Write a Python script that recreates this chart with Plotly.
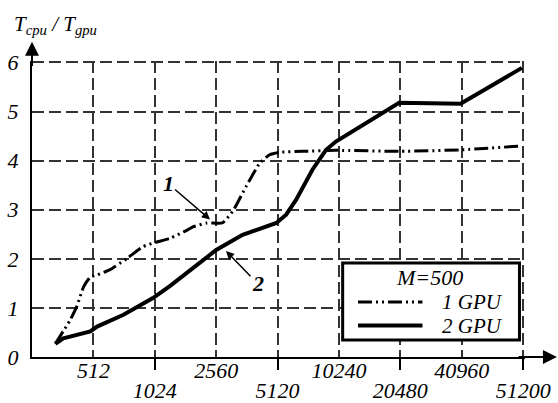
import plotly.graph_objects as go

# Tick labels (categorical positions 1..8)
x_ticks_upper = [1, 3, 5, 7]
x_labels_upper = ["512", "2560", "10240", "40960"]
x_ticks_lower = [2, 4, 6, 8]
x_labels_lower = ["1024", "5120", "20480", "51200"]
y_ticks = [0, 1, 2, 3, 4, 5, 6]
y_labels = ["0", "1", "2", "3", "4", "5", "6"]

# Curve 1: 1 GPU (position index on N axis, speedup)
gpu1_x = [0.38, 0.62, 0.73, 0.84, 0.95, 1.06, 1.27, 1.55, 1.81, 2.0, 2.25, 2.52, 2.62, 2.85,
          3.1, 3.27, 3.49, 3.71, 3.87, 4.03, 4.41, 4.95, 5.98, 6.98, 7.98]
gpu1_y = [0.27, 0.75, 1.03, 1.43, 1.63, 1.67, 1.78, 2.01, 2.25, 2.33, 2.42, 2.58, 2.65, 2.73,
          2.73, 2.97, 3.48, 3.95, 4.12, 4.17, 4.19, 4.21, 4.19, 4.22, 4.3]

# Curve 2: 2 GPU
gpu2_x = [0.38, 0.51, 0.95, 1.06, 1.49, 1.97, 2.25, 3.0, 3.43, 3.98, 4.14, 4.3, 4.57, 4.79,
          4.95, 5.98, 6.98, 7.98]
gpu2_y = [0.27, 0.38, 0.52, 0.62, 0.86, 1.2, 1.45, 2.18, 2.49, 2.73, 2.9, 3.2, 3.82, 4.22,
          4.39, 5.18, 5.16, 5.89]

series_names = ["1 GPU", "2 GPU"]
legend_title = "M=500"

FONT = "Liberation Serif, Times New Roman, serif"
GRID = "#333333"
TICKSIZE = 22
DASH1 = "14px,4px,2px,4px,2px,4px"


def ital(labels):
    return ["<i>" + s + "</i>" for s in labels]


fig = go.Figure()
fig.add_trace(go.Scatter(
    x=gpu1_x, y=gpu1_y, mode="lines", name=series_names[0],
    line=dict(color="black", width=3, dash=DASH1, shape="spline", smoothing=0.5),
    cliponaxis=False,
))
fig.add_trace(go.Scatter(
    x=gpu2_x, y=gpu2_y, mode="lines", name=series_names[1], xaxis="x2",
    line=dict(color="black", width=4),
    cliponaxis=False,
))

axis_common = dict(
    showgrid=True, gridcolor=GRID, gridwidth=2, griddash="12px,5px",
    zeroline=False, showline=True, linecolor="black", linewidth=2, automargin=False,
    tickfont=dict(family=FONT, size=TICKSIZE, color="black"),
)

fig.update_layout(
    width=558, height=403,
    margin=dict(l=32, r=33, t=61, b=46, autoexpand=False),
    paper_bgcolor="white", plot_bgcolor="white",
    font=dict(family=FONT, size=21, color="black"),
    xaxis=dict(range=[0, 8.03], tickmode="array", tickvals=x_ticks_upper, ticktext=ital(x_labels_upper),
               ticks="", ticklabelstandoff=-7, **axis_common),
    xaxis2=dict(range=[0, 8.03], overlaying="x", anchor="y", side="bottom", tickmode="array",
                tickvals=x_ticks_lower, ticktext=ital(x_labels_lower),
                ticks="outside", ticklen=11, tickwidth=2, tickcolor="black",
                ticklabelstandoff=2, **axis_common),
    yaxis=dict(range=[0, 6.03], tickmode="array", tickvals=y_ticks, ticktext=ital(y_labels), ticks="",
               ticklabelstandoff=7, **axis_common),
    showlegend=False,
)

# Legend drawn as a framed box (data coordinates of the plot)
fig.add_shape(type="rect", xref="x", yref="y", x0=5.06, x1=7.94, y0=0.346, y1=1.915,
              line=dict(color="black", width=3), fillcolor="white", layer="above")
fig.add_annotation(x=6.48, y=1.61, xref="x", yref="y", showarrow=False,
                   text="<i>" + legend_title + "</i>", font=dict(family=FONT, size=22, color="black"))
for i, (nm, dash, w) in enumerate(zip(series_names, [DASH1, "solid"], [3, 4])):
    yy = 1.12 - i * 0.48
    fig.add_shape(type="line", xref="x", yref="y", x0=5.31, x1=6.36, y0=yy, y1=yy,
                  line=dict(color="black", width=w, dash=dash), layer="above")
    fig.add_annotation(x=6.64, y=yy, xref="x", yref="y", xanchor="left", yanchor="middle",
                       showarrow=False, text="<i>" + nm + "</i>",
                       font=dict(family=FONT, size=21, color="black"))

# Axis arrows
fig.add_annotation(x=8.55, y=0, ax=7.9, ay=0, xref="x", yref="y", axref="x", ayref="y",
                   showarrow=True, arrowhead=2, arrowsize=1.4, arrowwidth=2, arrowcolor="black", text="")
fig.add_annotation(x=0, y=6.42, ax=0, ay=5.9, xref="x", yref="y", axref="x", ayref="y",
                   showarrow=True, arrowhead=2, arrowsize=1.4, arrowwidth=2, arrowcolor="black", text="")

# Axis titles
fig.add_annotation(x=-0.041, y=1.12, xref="paper", yref="paper", xanchor="left", yanchor="middle",
                   showarrow=False, text="<i>T<sub>cpu</sub> / T<sub>gpu</sub></i>",
                   font=dict(family=FONT, size=21, color="black"))
fig.add_annotation(x=8.38, y=-0.31, xref="x", yref="y", xanchor="left", yanchor="middle",
                   showarrow=False, text="<i>N</i>",
                   font=dict(family=FONT, size=23, color="black"))

# Curve labels
fig.add_annotation(x=2.9, y=2.8, xref="x", yref="y", ax=-42, ay=-36, text="<b><i>1</i></b>",
                   showarrow=True, arrowhead=2, arrowsize=1.1, arrowwidth=1.5, arrowcolor="black",
                   font=dict(family=FONT, size=22, color="black"))
fig.add_annotation(x=3.16, y=2.16, xref="x", yref="y", ax=32, ay=33, text="<b><i>2</i></b>",
                   showarrow=True, arrowhead=2, arrowsize=1.1, arrowwidth=1.5, arrowcolor="black",
                   font=dict(family=FONT, size=22, color="black"))

fig.write_html("out.html")
